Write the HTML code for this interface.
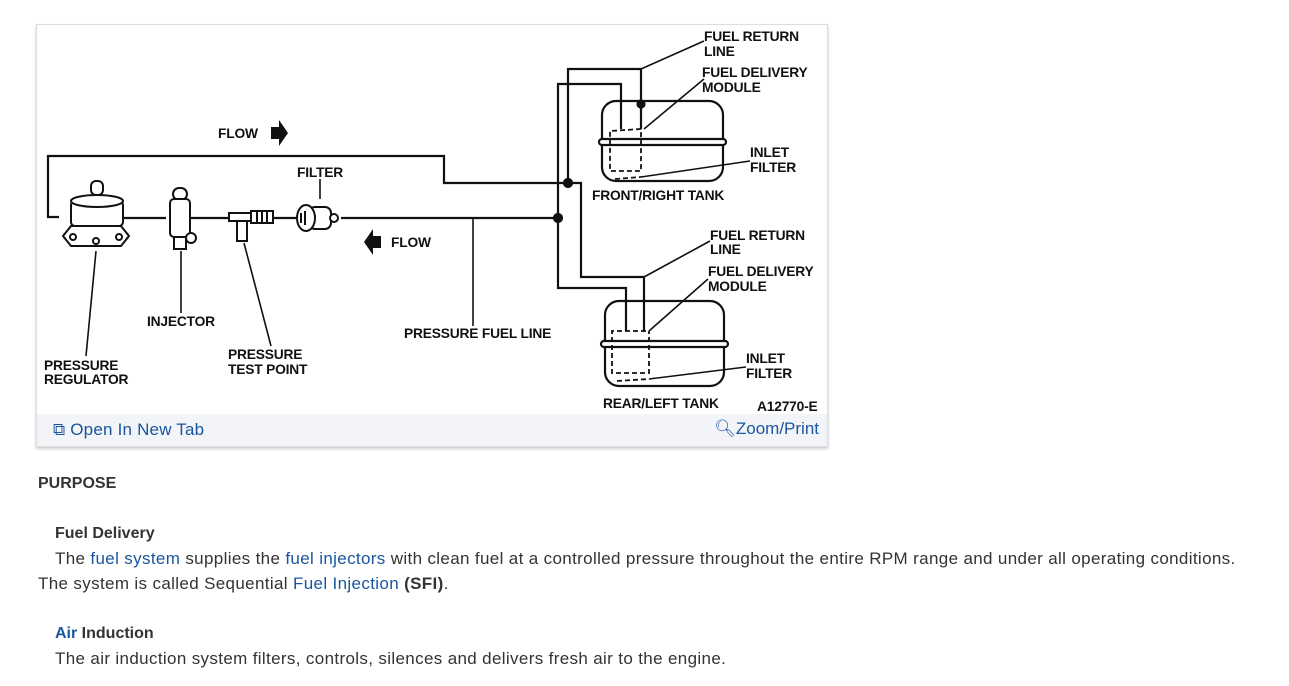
<!DOCTYPE html>
<html><head><meta charset="utf-8"><style>
body{margin:0;width:1289px;height:686px;background:#fff;font-family:"Liberation Sans",sans-serif;color:#333;position:relative;overflow:hidden}
.fig{position:absolute;left:36px;top:24px;width:790px;height:421px;border:1px solid #ddd;box-shadow:0 2px 3px #ccc;background:#fff}
.bar{position:absolute;left:0;top:389px;width:790px;height:32px;background:#f3f4f8}
.lnk{color:#1a56a0}
.t{position:absolute;font-size:16px;white-space:nowrap}
.p{font-size:17px;letter-spacing:0.35px}
svg text{font-family:"Liberation Sans",sans-serif;font-weight:bold;font-size:13.8px;fill:#111;letter-spacing:-0.2px}
</style></head><body>
<div class="fig">
<svg width="790" height="389" viewBox="36 24 790 389" style="position:absolute;left:0;top:0" stroke="#111" stroke-width="2.2" fill="none">
<polyline points="58,216 47,216 47,155 443,155 443,182 580,182 580,276 643,276 643,330"/>
<polyline points="567,182 567,68 640,68 640,128"/>
<polyline points="340,217 557,217 557,83 620,83 620,128"/>
<polyline points="557,217 557,287 625,287 625,330"/>
<line x1="120" y1="217" x2="165" y2="217"/><line x1="190" y1="217" x2="228" y2="217"/><line x1="272" y1="217" x2="295" y2="217"/>
<circle cx="567" cy="182" r="4" fill="#111"/><circle cx="557" cy="217" r="4" fill="#111"/><circle cx="640" cy="103" r="3.5" fill="#111"/>
<rect x="601" y="100" width="121" height="80" rx="14"/><rect x="598" y="138" width="127" height="6" rx="3" fill="#fff"/>
<rect x="604" y="300" width="119" height="85" rx="14"/><rect x="600" y="340" width="127" height="6" rx="3" fill="#fff"/>
<g stroke-dasharray="5,3" stroke-width="1.8"><polyline points="640,128 609,130 609,170 640,170 640,128"/><polyline points="645,330 611,330 611,372 648,372 648,330"/><line x1="614" y1="178" x2="640" y2="176"/><line x1="616" y1="380" x2="648" y2="378"/></g>
<g stroke-width="1.6"><line x1="640" y1="68" x2="703" y2="40"/><line x1="643" y1="128" x2="703" y2="78"/><line x1="640" y1="176" x2="749" y2="160"/>
<line x1="643" y1="276" x2="709" y2="240"/><line x1="648" y1="330" x2="707" y2="278"/><line x1="648" y1="378" x2="745" y2="366"/>
<line x1="472" y1="217" x2="472" y2="325"/><line x1="95" y1="250" x2="85" y2="355"/><line x1="180" y1="250" x2="180" y2="312"/><line x1="243" y1="242" x2="270" y2="345"/><line x1="319" y1="178" x2="319" y2="198"/></g>
<g stroke-width="2" fill="#fff"><path d="M62,235 L70,225 L120,225 L128,235 L120,245 L70,245 Z"/><rect x="70" y="200" width="52" height="25" rx="4"/><ellipse cx="96" cy="200" rx="26" ry="6"/><rect x="90" y="180" width="12" height="14" rx="5"/><circle cx="72" cy="236" r="3"/><circle cx="118" cy="236" r="3"/><circle cx="95" cy="240" r="3"/></g>
<g stroke-width="2" fill="#fff"><rect x="172" y="187" width="14" height="12" rx="6"/><rect x="169" y="198" width="20" height="38" rx="4"/><circle cx="190" cy="237" r="5"/><rect x="173" y="236" width="12" height="12"/></g>
<g stroke-width="2" fill="#fff"><rect x="228" y="212" width="22" height="8"/><rect x="250" y="210" width="22" height="12"/><rect x="236" y="220" width="10" height="20"/><line x1="256" y1="211" x2="256" y2="221"/><line x1="261" y1="211" x2="261" y2="221"/><line x1="266" y1="211" x2="266" y2="221"/></g>
<g stroke-width="2" fill="#fff"><rect x="308" y="206" width="22" height="22" rx="6"/><ellipse cx="305" cy="217" rx="9" ry="13"/><circle cx="333" cy="217" r="4"/><line x1="300" y1="212" x2="300" y2="222"/><line x1="304" y1="210" x2="304" y2="224"/></g>
<path d="M270,126 L278,126 L278,119 L287,132 L278,145 L278,138 L270,138 Z" fill="#111" stroke="none"/>
<path d="M380,235 L372,235 L372,228 L363,241 L372,254 L372,247 L380,247 Z" fill="#111" stroke="none"/>
<g stroke="none">
<text x="217" y="137">FLOW</text><text x="390" y="246">FLOW</text><text x="296" y="176">FILTER</text>
<text x="146" y="325">INJECTOR</text><text x="43" y="369">PRESSURE</text><text x="43" y="383">REGULATOR</text>
<text x="227" y="358">PRESSURE</text><text x="227" y="373">TEST POINT</text><text x="403" y="337">PRESSURE FUEL LINE</text>
<text x="703" y="40">FUEL RETURN</text><text x="703" y="55">LINE</text><text x="701" y="76">FUEL DELIVERY</text><text x="701" y="91">MODULE</text>
<text x="749" y="156">INLET</text><text x="749" y="171">FILTER</text><text x="591" y="199">FRONT/RIGHT TANK</text>
<text x="709" y="239">FUEL RETURN</text><text x="709" y="253">LINE</text><text x="707" y="275">FUEL DELIVERY</text><text x="707" y="290">MODULE</text>
<text x="745" y="362">INLET</text><text x="745" y="377">FILTER</text><text x="602" y="407">REAR/LEFT TANK</text><text x="756" y="410">A12770-E</text>
</g>
</svg>
<div class="bar">
<span class="lnk" style="position:absolute;left:16px;top:6px;font-size:17px;letter-spacing:0.2px">&#x29C9; Open In New Tab</span>
<span class="lnk" style="position:absolute;right:8px;top:5px;font-size:17px">&#x1F50D;&#xFE0E;Zoom/Print</span>
</div>
</div>
<div class="t" style="left:38px;top:475px;font-weight:bold">PURPOSE</div>
<div class="t" style="left:55px;top:525px;font-weight:bold">Fuel Delivery</div>
<div class="t p" style="left:55px;top:549px">The <span class="lnk">fuel system</span> supplies the <span class="lnk">fuel injectors</span> with clean fuel at a controlled pressure throughout the entire RPM range and under all operating conditions.</div>
<div class="t p" style="left:38px;top:574px">The system is called Sequential <span class="lnk">Fuel Injection</span> <b>(SFI)</b>.</div>
<div class="t" style="left:55px;top:625px;font-weight:bold"><span class="lnk">Air</span> Induction</div>
<div class="t p" style="left:55px;top:649px">The air induction system filters, controls, silences and delivers fresh air to the engine.</div>
</body></html>
